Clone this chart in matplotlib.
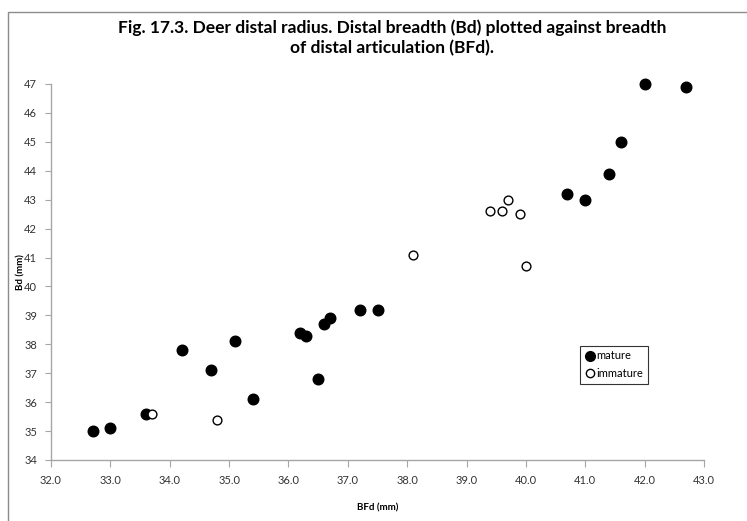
import matplotlib
matplotlib.use("Agg")
import matplotlib.pyplot as plt
from matplotlib.lines import Line2D
from matplotlib.patches import Rectangle

# mature specimens
mature_bfd = [32.7, 33.0, 33.6, 34.2, 34.7, 35.1, 35.4, 36.2, 36.3, 36.5,
              36.6, 36.7, 37.2, 37.5, 40.7, 41.0, 41.4, 41.6, 42.0, 42.7]
mature_bd = [35.0, 35.1, 35.6, 37.8, 37.1, 38.1, 36.1, 38.4, 38.3, 36.8,
             38.7, 38.9, 39.2, 39.2, 43.2, 43.0, 43.9, 45.0, 47.0, 46.9]

# immature specimens
immature_bfd = [33.7, 34.8, 38.1, 39.4, 39.6, 39.7, 39.9, 40.0]
immature_bd = [35.6, 35.4, 41.1, 42.6, 42.6, 43.0, 42.5, 40.7]

x_ticks = [32.0, 33.0, 34.0, 35.0, 36.0, 37.0, 38.0, 39.0, 40.0, 41.0, 42.0, 43.0]
y_ticks = list(range(34, 48))

plt.rcParams["font.family"] = ["Lato", "DejaVu Sans"]
W, H = 747, 521
fig = plt.figure(figsize=(W / 100, H / 100), dpi=100)
fig.patch.set_facecolor("white")

# chart-area border (partially cropped in the original)
fig.add_artist(Rectangle((8 / W, -0.1), 1.2, (H - 12) / H + 0.1, transform=fig.transFigure,
                         fill=False, edgecolor="#8c8c8c", linewidth=1.0))

ax = fig.add_axes([51 / W, 1 - 460 / H, (704 - 51) / W, (460 - 84) / H])

ax.scatter(mature_bfd, mature_bd, s=58, color="black", zorder=3, clip_on=False)
ax.scatter(immature_bfd, immature_bd, s=40, facecolor="white", edgecolor="black",
           linewidth=1.0, zorder=3, clip_on=False)

ax.set_xlim(32, 43)
ax.set_ylim(34, 47)
ax.set_xticks(x_ticks)
ax.set_xticklabels([f"{v:.1f}" for v in x_ticks])
ax.set_yticks(y_ticks)
ax.set_yticklabels([str(v) for v in y_ticks])

for side in ["top", "right"]:
    ax.spines[side].set_visible(False)
for side in ["left", "bottom"]:
    ax.spines[side].set_color("#a6a6a6")
    ax.spines[side].set_linewidth(1.0)
ax.tick_params(axis="both", colors="#a6a6a6", labelcolor="#333333", labelsize=8, direction="out")
ax.tick_params(axis="x", length=5, pad=6)
ax.tick_params(axis="y", length=4, pad=6)

ax.set_xlabel("BFd (mm)", fontsize=7, fontweight="bold", labelpad=12)
ax.set_ylabel("Bd (mm)", fontsize=7, fontweight="bold", labelpad=-1)

fig.text(392 / W, 1 - 38 / H,
         "Fig. 17.3. Deer distal radius. Distal breadth (Bd) plotted against breadth\nof distal articulation (BFd).",
         ha="center", va="center", fontsize=12.5, fontweight="bold", linespacing=1.35)

handles = [
    Line2D([], [], marker="o", linestyle="none", markersize=7, color="black", label="mature"),
    Line2D([], [], marker="o", linestyle="none", markersize=6, markerfacecolor="white",
           markeredgecolor="black", label="immature"),
]
leg = ax.legend(handles=handles, loc="upper left", bbox_to_anchor=((580 - 51) / (704 - 51), 1 - (346 - 84) / (460 - 84)),
                frameon=True, fancybox=False, edgecolor="black", fontsize=8,
                handletextpad=0.1, borderpad=0.4, labelspacing=0.6, handlelength=1.0,
                borderaxespad=0)
leg.get_frame().set_linewidth(0.8)

plt.savefig("out.png", dpi=100, facecolor=fig.get_facecolor())
